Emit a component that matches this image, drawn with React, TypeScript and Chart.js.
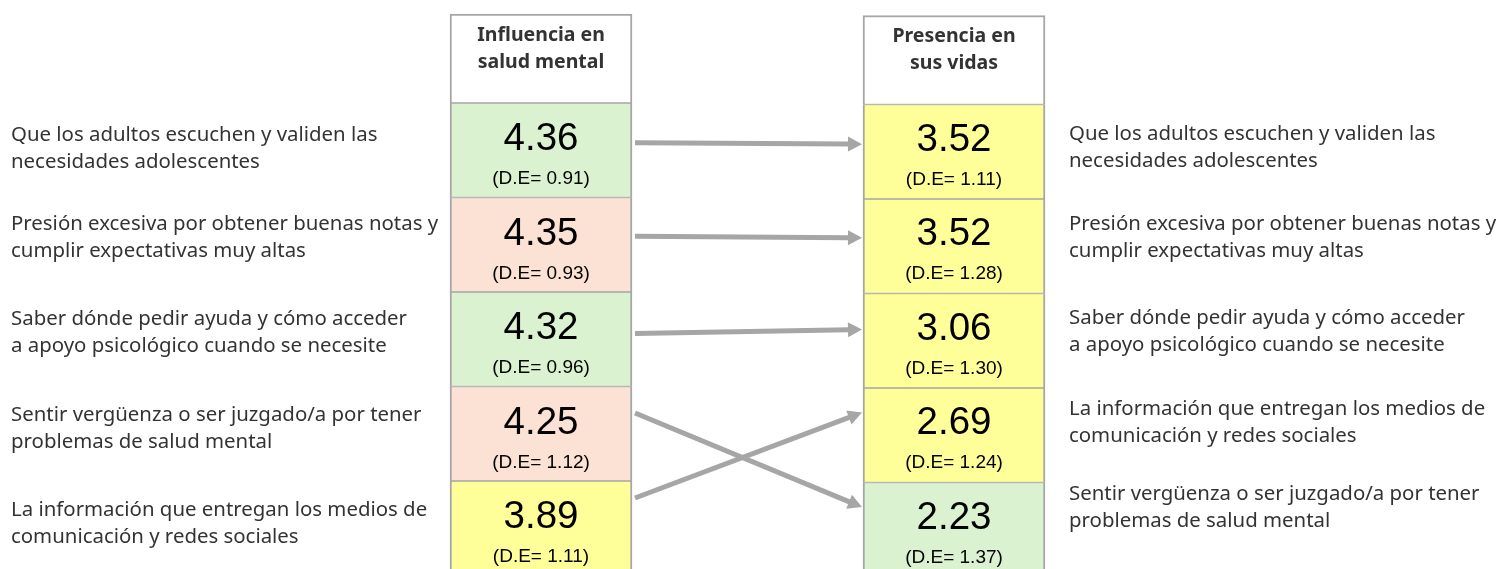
import React, { useEffect, useRef } from "react";
import { Chart, registerables } from "chart.js";

Chart.register(...registerables);

// ---------------- data ----------------
const ITEMS = [
  "Que los adultos escuchen y validen las\nnecesidades adolescentes",
  "Presión excesiva por obtener buenas notas y\ncumplir expectativas muy altas",
  "Saber dónde pedir ayuda y cómo acceder\na apoyo psicológico cuando se necesite",
  "Sentir vergüenza o ser juzgado/a por tener\nproblemas de salud mental",
  "La información que entregan los medios de\ncomunicación y redes sociales",
];
const COLUMN_TITLES = ["Influencia en\nsalud mental", "Presencia en\nsus vidas"];
const INFLUENCE_MEAN = [4.36, 4.35, 4.32, 4.25, 3.89];
const INFLUENCE_SD = [0.91, 0.93, 0.96, 1.12, 1.11];
const PRESENCE_MEAN = [3.52, 3.52, 3.06, 2.23, 2.69];
const PRESENCE_SD = [1.11, 1.28, 1.3, 1.37, 1.24];

// ---------------- styles / layout ----------------
const GREEN = "rgb(218,242,208)";
const SALMON = "rgb(251,226,213)";
const YELLOW = "rgb(255,255,153)";
const INFLUENCE_COLORS = [GREEN, SALMON, GREEN, SALMON, YELLOW];
const PRESENCE_COLORS = [YELLOW, YELLOW, YELLOW, GREEN, YELLOW];
const GRID = "#a6a6a6";
const ARROW = "#a6a6a6";

const W = 1499;
const H = 569;
const Y0 = 103; // pixel of top of first row
const ROW_H = 94.5;
const HEADER_TOP = -(Y0 - 14) / ROW_H;
const RIGHT_SHIFT = 1.5 / ROW_H;
const LEFT_COL_X = 541;
const RIGHT_COL_X = 954;
const COL_W = 182;
const LEFT_LABEL_X = 11;
const RIGHT_LABEL_X = 1069;
const LEFT_LABEL_SHIFT = [-2, -7, -7, -5, -5];
const RIGHT_LABEL_SHIFT = [-4, -9, -9, -13, -22];
const ARROW_FROM = [0.42, 0.41, 0.44, 0.28, 0.18];
const ARROW_TO = [0.42, 0.41, 0.38, 0.26, 0.26];

const LABEL_FONT = "20.4px 'Noto Sans'";
const HEAD_FONT = "bold 19.5px 'Noto Sans'";
const VALUE_FONT = "38.5px 'Liberation Sans'";
const SD_FONT = "19px 'Liberation Sans'";

// right column order: sorted by presence (stable)
const RIGHT_ORDER = ITEMS.map((_, i) => i).sort((a, b) => PRESENCE_MEAN[b] - PRESENCE_MEAN[a]);

function cellBorder(isHeader: boolean) {
  return { top: isHeader ? 2 : 1, bottom: 1, left: 2, right: 2 };
}

const tablePlugin = {
  id: "tableText",
  afterDatasetsDraw(chart: any) {
    const { ctx } = chart;
    const xs = chart.scales.x;
    const ys = chart.scales.y;
    ctx.save();

    // headers
    ctx.fillStyle = "#333333";
    ctx.font = HEAD_FONT;
    ctx.textAlign = "center";
    ctx.textBaseline = "middle";
    COLUMN_TITLES.forEach((t, c) => {
      const cx = xs.getPixelForValue(c === 0 ? LEFT_COL_X : RIGHT_COL_X);
      const top = ys.getPixelForValue(HEADER_TOP + (c === 1 ? RIGHT_SHIFT : 0));
      t.split("\n").forEach((line, k) => ctx.fillText(line, cx, top + 21 + k * 27));
    });

    // left column values and labels
    ITEMS.forEach((label, i) => {
      const top = ys.getPixelForValue(i);
      const bottom = ys.getPixelForValue(i + 1);
      const cx = xs.getPixelForValue(LEFT_COL_X);
      ctx.fillStyle = "#000";
      ctx.textAlign = "center";
      ctx.textBaseline = "middle";
      ctx.font = VALUE_FONT;
      ctx.fillText(INFLUENCE_MEAN[i].toFixed(2), cx, top + 36.5);
      ctx.font = SD_FONT;
      ctx.fillText(`(D.E= ${INFLUENCE_SD[i].toFixed(2)})`, cx, top + 76);

      ctx.fillStyle = "#333333";
      ctx.textAlign = "left";
      ctx.font = LABEL_FONT;
      const mid = (top + bottom) / 2 + LEFT_LABEL_SHIFT[i];
      label.split("\n").forEach((line, k) =>
        ctx.fillText(line, xs.getPixelForValue(LEFT_LABEL_X), mid - 13.5 + k * 27)
      );
    });

    // right column values and labels
    RIGHT_ORDER.forEach((item, r) => {
      const top = ys.getPixelForValue(r + RIGHT_SHIFT);
      const bottom = ys.getPixelForValue(r + 1 + RIGHT_SHIFT);
      const cx = xs.getPixelForValue(RIGHT_COL_X);
      ctx.fillStyle = "#000";
      ctx.textAlign = "center";
      ctx.textBaseline = "middle";
      ctx.font = VALUE_FONT;
      ctx.fillText(PRESENCE_MEAN[item].toFixed(2), cx, top + 35.5);
      ctx.font = SD_FONT;
      ctx.fillText(`(D.E= ${PRESENCE_SD[item].toFixed(2)})`, cx, top + 75);

      ctx.fillStyle = "#333333";
      ctx.textAlign = "left";
      ctx.font = LABEL_FONT;
      const mid = (top + bottom) / 2 + RIGHT_LABEL_SHIFT[r];
      ITEMS[item].split("\n").forEach((line, k) =>
        ctx.fillText(line, xs.getPixelForValue(RIGHT_LABEL_X), mid - 13.5 + k * 27)
      );
    });

    // arrows
    const x1 = xs.getPixelForValue(LEFT_COL_X + COL_W / 2) + 3;
    const x2 = xs.getPixelForValue(RIGHT_COL_X - COL_W / 2) - 1;
    ITEMS.forEach((_, i) => {
      const r = RIGHT_ORDER.indexOf(i);
      const y1 = ys.getPixelForValue(i + ARROW_FROM[i]);
      const y2 = ys.getPixelForValue(r + RIGHT_SHIFT + ARROW_TO[r]);
      const ang = Math.atan2(y2 - y1, x2 - x1);
      const headL = 14;
      const headW = 7.5;
      const bx = x2 - headL * Math.cos(ang);
      const by = y2 - headL * Math.sin(ang);
      ctx.strokeStyle = ARROW;
      ctx.lineWidth = 5;
      ctx.lineCap = "butt";
      ctx.beginPath();
      ctx.moveTo(x1, y1);
      ctx.lineTo(bx + Math.cos(ang), by + Math.sin(ang));
      ctx.stroke();
      ctx.fillStyle = ARROW;
      ctx.beginPath();
      ctx.moveTo(x2, y2);
      ctx.lineTo(bx - headW * Math.sin(ang), by + headW * Math.cos(ang));
      ctx.lineTo(bx + headW * Math.sin(ang), by - headW * Math.cos(ang));
      ctx.closePath();
      ctx.fill();
    });

    ctx.restore();
  },
};

export default function App() {
  const ref = useRef<HTMLCanvasElement | null>(null);

  useEffect(() => {
    document.body.style.margin = "0";
    const canvas = ref.current;
    if (!canvas) return;

    const leftData = [
      { x: LEFT_COL_X, y: [HEADER_TOP, 0] },
      ...INFLUENCE_MEAN.map((_, i) => ({ x: LEFT_COL_X, y: [i, i + 1] })),
    ];
    const rightData = [
      { x: RIGHT_COL_X, y: [HEADER_TOP + RIGHT_SHIFT, RIGHT_SHIFT] },
      ...RIGHT_ORDER.map((_, r) => ({ x: RIGHT_COL_X, y: [r + RIGHT_SHIFT, r + 1 + RIGHT_SHIFT] })),
    ];

    const chart = new Chart(canvas, {
      type: "bar",
      data: {
        datasets: [
          {
            label: "Influencia en salud mental",
            data: leftData as any,
            backgroundColor: ["#ffffff", ...INFLUENCE_COLORS],
            borderColor: GRID,
            borderWidth: leftData.map((_, k) => cellBorder(k === 0)) as any,
            borderSkipped: false,
            barThickness: COL_W,
            grouped: false,
          },
          {
            label: "Presencia en sus vidas",
            data: rightData as any,
            backgroundColor: ["#ffffff", ...RIGHT_ORDER.map((it) => PRESENCE_COLORS[it])],
            borderColor: GRID,
            borderWidth: rightData.map((_, k) => cellBorder(k === 0)) as any,
            borderSkipped: false,
            barThickness: COL_W,
            grouped: false,
          },
        ],
      },
      options: {
        responsive: false,
        animation: false,
        layout: { padding: 0 },
        plugins: { legend: { display: false }, tooltip: { enabled: false } },
        scales: {
          x: { type: "linear", min: 0, max: W, display: false, offset: false },
          y: {
            type: "linear",
            min: -Y0 / ROW_H,
            max: (H - Y0) / ROW_H,
            reverse: true,
            display: false,
          },
        },
      },
      plugins: [tablePlugin],
    });

    return () => chart.destroy();
  }, []);

  return (
    <div style={{ width: W, height: H, background: "#fff" }}>
      <canvas ref={ref} width={W} height={H} style={{ display: "block" }} />
    </div>
  );
}
